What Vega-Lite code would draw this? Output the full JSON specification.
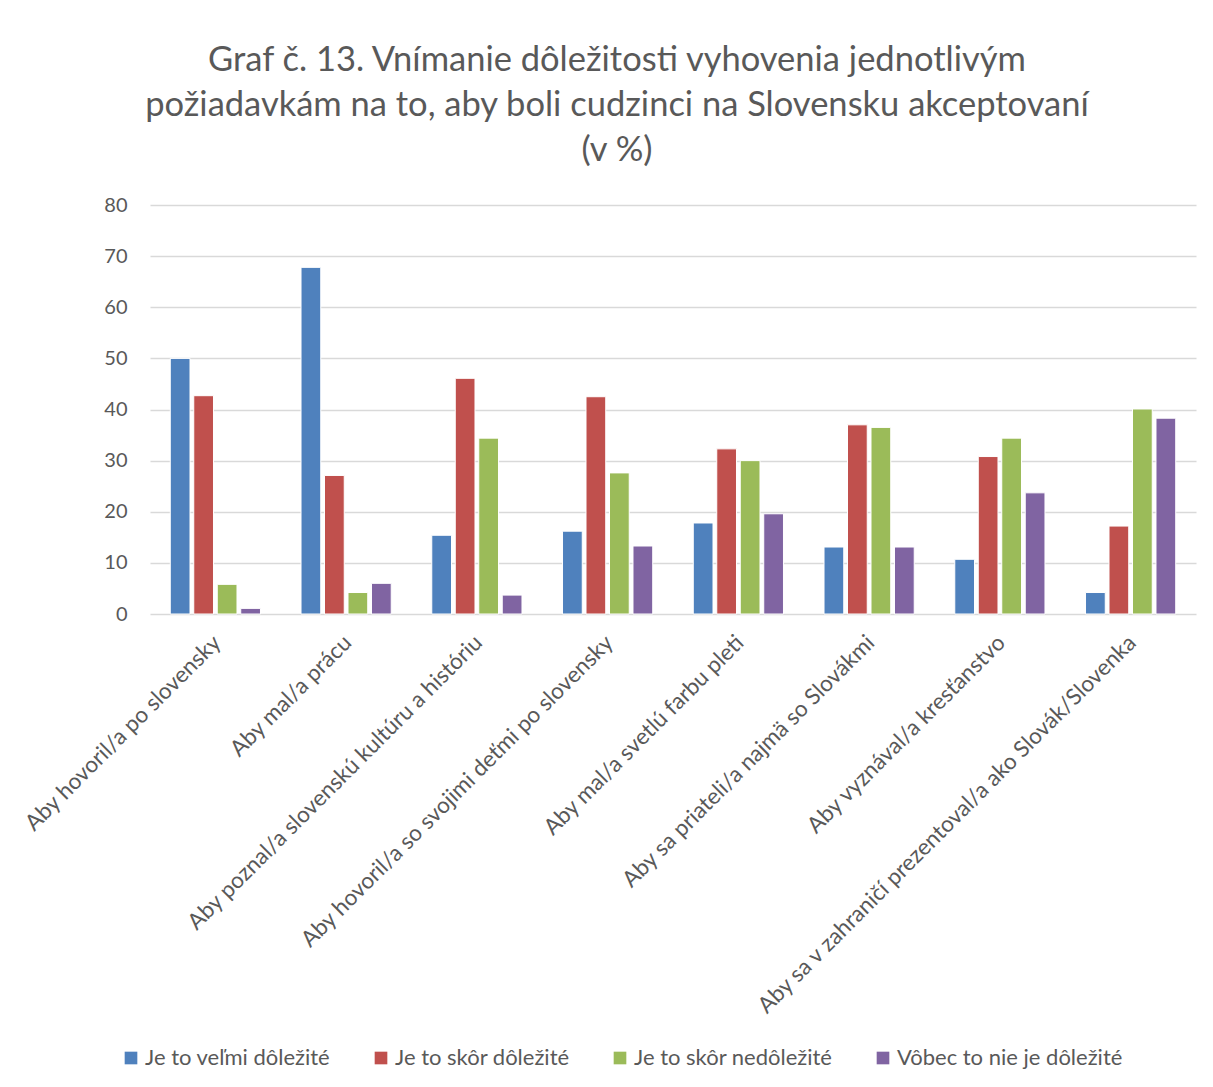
{
  "$schema": "https://vega.github.io/schema/vega-lite/v6.json",
  "width": 1046,
  "height": 409,
  "autosize": {"type": "none"},
  "padding": {"left": 150, "top": 205, "right": 17, "bottom": 473},
  "background": "white",
  "title": {
    "text": ["Graf č. 13. Vnímanie dôležitosti vyhovenia jednotlivým", "požiadavkám na to, aby boli cudzinci na Slovensku akceptovaní", "(v %)"],
    "font": "Lato",
    "fontSize": 34.5,
    "fontWeight": "normal",
    "color": "#595959",
    "lineHeight": 45,
    "anchor": "middle",
    "frame": "group",
    "dx": -56,
    "offset": 27
  },
  "data": {
    "values": [
      {"k": "Aby hovoril/a po slovensky", "s": "Je to veľmi dôležité", "v": 50.0},
      {"k": "Aby hovoril/a po slovensky", "s": "Je to skôr dôležité", "v": 42.7},
      {"k": "Aby hovoril/a po slovensky", "s": "Je to skôr nedôležité", "v": 5.8},
      {"k": "Aby hovoril/a po slovensky", "s": "Vôbec to nie je dôležité", "v": 1.1},
      {"k": "Aby mal/a prácu", "s": "Je to veľmi dôležité", "v": 67.8},
      {"k": "Aby mal/a prácu", "s": "Je to skôr dôležité", "v": 27.1},
      {"k": "Aby mal/a prácu", "s": "Je to skôr nedôležité", "v": 4.2},
      {"k": "Aby mal/a prácu", "s": "Vôbec to nie je dôležité", "v": 6.0},
      {"k": "Aby poznal/a slovenskú kultúru a históriu", "s": "Je to veľmi dôležité", "v": 15.4},
      {"k": "Aby poznal/a slovenskú kultúru a históriu", "s": "Je to skôr dôležité", "v": 46.1},
      {"k": "Aby poznal/a slovenskú kultúru a históriu", "s": "Je to skôr nedôležité", "v": 34.4},
      {"k": "Aby poznal/a slovenskú kultúru a históriu", "s": "Vôbec to nie je dôležité", "v": 3.7},
      {"k": "Aby hovoril/a so svojimi deťmi po slovensky", "s": "Je to veľmi dôležité", "v": 16.2},
      {"k": "Aby hovoril/a so svojimi deťmi po slovensky", "s": "Je to skôr dôležité", "v": 42.5},
      {"k": "Aby hovoril/a so svojimi deťmi po slovensky", "s": "Je to skôr nedôležité", "v": 27.6},
      {"k": "Aby hovoril/a so svojimi deťmi po slovensky", "s": "Vôbec to nie je dôležité", "v": 13.3},
      {"k": "Aby mal/a svetlú farbu pleti", "s": "Je to veľmi dôležité", "v": 17.8},
      {"k": "Aby mal/a svetlú farbu pleti", "s": "Je to skôr dôležité", "v": 32.3},
      {"k": "Aby mal/a svetlú farbu pleti", "s": "Je to skôr nedôležité", "v": 30.0},
      {"k": "Aby mal/a svetlú farbu pleti", "s": "Vôbec to nie je dôležité", "v": 19.6},
      {"k": "Aby sa priateli/a najmä so Slovákmi", "s": "Je to veľmi dôležité", "v": 13.1},
      {"k": "Aby sa priateli/a najmä so Slovákmi", "s": "Je to skôr dôležité", "v": 37.0},
      {"k": "Aby sa priateli/a najmä so Slovákmi", "s": "Je to skôr nedôležité", "v": 36.5},
      {"k": "Aby sa priateli/a najmä so Slovákmi", "s": "Vôbec to nie je dôležité", "v": 13.1},
      {"k": "Aby vyznával/a kresťanstvo", "s": "Je to veľmi dôležité", "v": 10.7},
      {"k": "Aby vyznával/a kresťanstvo", "s": "Je to skôr dôležité", "v": 30.8},
      {"k": "Aby vyznával/a kresťanstvo", "s": "Je to skôr nedôležité", "v": 34.4},
      {"k": "Aby vyznával/a kresťanstvo", "s": "Vôbec to nie je dôležité", "v": 23.7},
      {"k": "Aby sa v zahraničí prezentoval/a ako Slovák/Slovenka", "s": "Je to veľmi dôležité", "v": 4.2},
      {"k": "Aby sa v zahraničí prezentoval/a ako Slovák/Slovenka", "s": "Je to skôr dôležité", "v": 17.2},
      {"k": "Aby sa v zahraničí prezentoval/a ako Slovák/Slovenka", "s": "Je to skôr nedôležité", "v": 40.1},
      {"k": "Aby sa v zahraničí prezentoval/a ako Slovák/Slovenka", "s": "Vôbec to nie je dôležité", "v": 38.3}
    ]
  },
  "mark": {"type": "bar", "stroke": "white", "strokeWidth": 1},
  "encoding": {
    "x": {
      "field": "k",
      "type": "nominal",
      "sort": null,
      "scale": {"paddingInner": 0.31, "paddingOuter": 0.155},
      "axis": {
        "title": null,
        "labelAngle": -45,
        "labelFont": "Lato",
        "labelFontSize": 22.5,
        "labelColor": "#595959",
        "labelLimit": 0,
        "labelOverlap": false,
        "ticks": false,
        "domain": false,
        "labelPadding": 17,
        "labelOffset": -6
      }
    },
    "xOffset": {
      "field": "s",
      "type": "nominal",
      "sort": null,
      "scale": {"paddingInner": 0.16}
    },
    "y": {
      "field": "v",
      "type": "quantitative",
      "scale": {"domain": [0, 80]},
      "axis": {
        "title": null,
        "values": [0, 10, 20, 30, 40, 50, 60, 70, 80],
        "labelOverlap": false,
        "labelFont": "Lato",
        "labelFontSize": 20,
        "labelColor": "#595959",
        "labelPadding": 23,
        "ticks": false,
        "domain": false,
        "grid": true,
        "gridColor": "#d9d9d9",
        "gridWidth": 1.5
      }
    },
    "color": {
      "field": "s",
      "type": "nominal",
      "sort": null,
      "scale": {
        "domain": ["Je to veľmi dôležité", "Je to skôr dôležité", "Je to skôr nedôležité", "Vôbec to nie je dôležité"],
        "range": ["#4F81BD", "#C0504D", "#9BBB59", "#8064A2"]
      },
      "legend": {
        "title": null,
        "orient": "none",
        "direction": "horizontal",
        "legendX": -30,
        "legendY": 842,
        "symbolType": "square",
        "symbolSize": 160,
        "symbolStrokeWidth": 0,
        "labelFont": "Lato",
        "labelFontSize": 22,
        "labelColor": "#595959",
        "labelOffset": 3,
        "columnPadding": 39,
        "labelLimit": 0
      }
    }
  },
  "config": {
    "view": {"stroke": null}
  }
}
